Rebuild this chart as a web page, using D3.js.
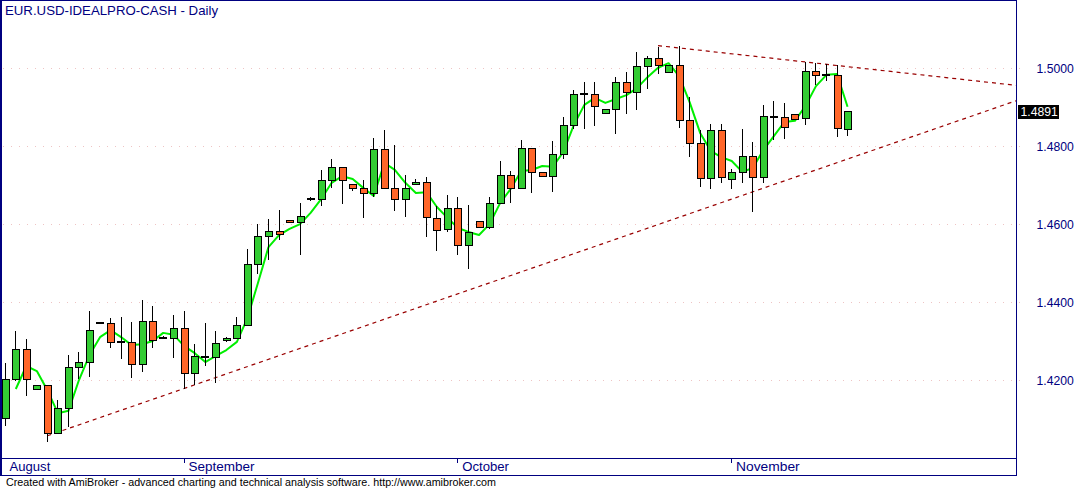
<!DOCTYPE html>
<html><head><meta charset="utf-8">
<script src="https://cdn.jsdelivr.net/npm/d3@7"></script>
<style>html,body{margin:0;padding:0;background:#fff;overflow:hidden}svg{display:block}</style>
</head><body>
<svg id="c" width="1077" height="488"></svg>
<script>
const title = "EUR.USD-IDEALPRO-CASH - Daily";
const footer = "Created with AmiBroker - advanced charting and technical analysis software. http://www.amibroker.com";

const opens = [1.4103,1.4202,1.4279,1.4176,1.4187,1.4063,1.4128,1.4233,1.4246,1.4346,
1.4346,1.4298,1.4298,1.4241,1.4352,1.4309,1.4307,1.4333,1.4217,1.4260,
1.4257,1.4302,1.4307,1.4340,1.4497,1.4569,1.4582,1.4611,1.4605,1.4664,
1.4664,1.4712,1.4746,1.4702,1.4692,1.4679,1.4792,1.4692,1.4664,1.4702,
1.4707,1.4617,1.4587,1.4641,1.4546,1.4607,1.4592,1.4653,1.4725,1.4692,
1.4795,1.4733,1.4723,1.4779,1.4854,1.4934,1.4935,1.4884,1.4895,1.4964,
1.4938,1.5005,1.5025,1.4990,1.5007,1.4866,1.4807,1.4718,1.4841,1.4715,
1.4733,1.4774,1.4720,1.4875,1.4874,1.4882,1.4872,1.4992,1.4982,1.4982,
1.4846];
const highs = [1.4245,1.4326,1.4305,1.4187,1.4187,1.4149,1.4264,1.4272,1.4377,1.4346,
1.4359,1.4363,1.4349,1.4405,1.4390,1.4314,1.4366,1.4377,1.4293,1.4346,
1.4326,1.4311,1.4362,1.4535,1.4600,1.4612,1.4636,1.4611,1.4653,1.4669,
1.4739,1.4767,1.4746,1.4702,1.4712,1.4820,1.4842,1.4803,1.4726,1.4715,
1.4720,1.4647,1.4674,1.4670,1.4649,1.4607,1.4670,1.4762,1.4736,1.4816,
1.4795,1.4733,1.4813,1.4876,1.4944,1.4965,1.4964,1.4895,1.4977,1.4990,
1.5042,1.5031,1.5054,1.5007,1.5057,1.4925,1.4842,1.4857,1.4857,1.4741,
1.4844,1.4811,1.4906,1.4916,1.4911,1.4882,1.5015,1.5014,1.5010,1.5008,
1.4891];
const lows = [1.4083,1.4198,1.4160,1.4176,1.4040,1.4063,1.4080,1.4202,1.4209,1.4346,
1.4283,1.4254,1.4206,1.4221,1.4283,1.4309,1.4257,1.4177,1.4186,1.4237,
1.4192,1.4298,1.4305,1.4340,1.4471,1.4508,1.4558,1.4602,1.4522,1.4659,
1.4647,1.4692,1.4652,1.4686,1.4617,1.4669,1.4692,1.4634,1.4619,1.4702,
1.4568,1.4532,1.4581,1.4522,1.4486,1.4592,1.4587,1.4652,1.4655,1.4689,
1.4679,1.4723,1.4682,1.4766,1.4843,1.4845,1.4853,1.4884,1.4832,1.4883,
1.4892,1.4946,1.4986,1.4990,1.4847,1.4773,1.4696,1.4689,1.4706,1.4689,
1.4706,1.4632,1.4706,1.4816,1.4818,1.4868,1.4855,1.4958,1.4967,1.4824,
1.4827];
const closes = [1.4202,1.4279,1.4202,1.4187,1.4063,1.4128,1.4233,1.4246,1.4328,1.4346,
1.4298,1.4298,1.4241,1.4351,1.4302,1.4309,1.4333,1.4217,1.4261,1.4260,
1.4294,1.4307,1.4340,1.4497,1.4569,1.4582,1.4574,1.4605,1.4620,1.4664,
1.4712,1.4746,1.4712,1.4692,1.4679,1.4792,1.4692,1.4664,1.4692,1.4708,
1.4617,1.4587,1.4641,1.4546,1.4579,1.4592,1.4653,1.4725,1.4692,1.4795,
1.4733,1.4723,1.4779,1.4854,1.4933,1.4934,1.4905,1.4895,1.4964,1.4938,
1.5005,1.5025,1.5007,1.5007,1.4866,1.4807,1.4718,1.4841,1.4720,1.4733,
1.4774,1.4720,1.4877,1.4875,1.4848,1.4870,1.4992,1.4982,1.4982,1.4846,
1.4891];
const maValues = [null,1.4177,1.4236,1.4223,1.4174,1.4115,1.4121,1.4200,1.4264,1.4310,
1.4328,1.4310,1.4290,1.4292,1.4300,1.4321,1.4316,1.4287,1.4269,1.4246,
1.4262,1.4277,1.4298,1.4359,1.4449,1.4541,1.4572,1.4588,1.4600,1.4629,
1.4664,1.4706,1.4723,1.4716,1.4693,1.4672,1.4757,1.4739,1.4706,1.4680,
1.4682,1.4644,1.4616,1.4590,1.4580,1.4572,1.4600,1.4654,1.4690,1.4736,
1.4739,1.4749,1.4747,1.4785,1.4854,1.4906,1.4924,1.4911,1.4921,1.4931,
1.4949,1.4977,1.5001,1.5013,1.4980,1.4913,1.4834,1.4788,1.4772,1.4762,
1.4734,1.4744,1.4790,1.4826,1.4862,1.4865,1.4903,1.4954,1.4983,1.4985,
1.4901];

const monthLabels = ["August","September","October","November"];
const monthStartBar = [0,17,43,69];
const yTicks = [1.42,1.44,1.46,1.48,1.50];
const supportLine = [[4,1.4057],[80,1.4767]];
const resistLine = [[62,1.5058],[80,1.5004]];
const lastPrice = closes[closes.length-1];

const NAVY = "#000080";
const FONT = "'Liberation Sans', Arial, sans-serif";
const UP = "#33CC33", DOWN = "#FF6629";
const plotRight = 1016, plotBottom = 458, axisBottom = 475;

const x = d3.scaleLinear().domain([-0.5, 96]).range([0, plotRight]);
const y = d3.scaleLinear().domain([1.40, 1.5175]).range([plotBottom, 0]);
const svg = d3.select("#c");
const px = v => Math.round(v) + 0.5;

svg.append("rect").attr("width",1077).attr("height",488).attr("fill","#fff");

// grid
svg.append("g").attr("shape-rendering","crispEdges")
  .selectAll("line").data(yTicks).join("line")
  .attr("x1",3).attr("x2",plotRight+5)
  .attr("y1",d=>px(y(d))).attr("y2",d=>px(y(d)))
  .attr("stroke","#eec4c4").attr("stroke-dasharray","1,7");

svg.append("clipPath").attr("id","pc").append("rect")
  .attr("x",1).attr("y",1).attr("width",plotRight-1).attr("height",plotBottom-1);

// trend lines
function extendLine(pts){
  const [a,b] = pts;
  const slope = (b[1]-a[1])/(b[0]-a[0]);
  const end = x.domain()[1];
  return [a, [end, a[1] + slope*(end-a[0])]];
}
const tl = d3.line().x(d=>x(d[0])).y(d=>y(d[1]));
const tg = svg.append("g").attr("clip-path","url(#pc)");
[supportLine, resistLine].forEach(l=>{
  tg.append("path").attr("d", tl(extendLine(l)))
    .attr("fill","none").attr("stroke","#990000").attr("stroke-width",1.2)
    .attr("stroke-dasharray","4,4");
});

// moving average line
const maLine = d3.line().defined(d=>d!=null).x((d,i)=>x(i)).y(d=>y(d));
svg.append("path").attr("d", maLine(maValues))
  .attr("fill","none").attr("stroke","#00EE00").attr("stroke-width",2).attr("stroke-linejoin","round");

// candles
const bars = opens.map((o,i)=>({i,o,h:highs[i],l:lows[i],c:closes[i]}));
const cg = svg.append("g").attr("shape-rendering","crispEdges");
const cand = cg.selectAll("g").data(bars).join("g");
cand.append("line")
  .attr("x1",d=>px(x(d.i)-0.5)).attr("x2",d=>px(x(d.i)-0.5))
  .attr("y1",d=>Math.round(y(d.h))).attr("y2",d=>Math.round(y(d.l)))
  .attr("stroke","#000").attr("stroke-width",1);
cand.filter(d=>d.o!==d.c).append("rect")
  .attr("x",d=>px(x(d.i)-3.5))
  .attr("y",d=>px(y(Math.max(d.o,d.c))))
  .attr("width",7)
  .attr("height",d=>Math.max(1,Math.round(y(Math.min(d.o,d.c))-y(Math.max(d.o,d.c)))))
  .attr("fill",d=>d.c>d.o?UP:DOWN).attr("stroke","#000").attr("stroke-width",1);
cand.filter(d=>d.o===d.c).append("rect")
  .attr("x",d=>Math.round(x(d.i)-4))
  .attr("y",d=>Math.round(y(d.c))-1)
  .attr("width",8).attr("height",2).attr("fill","#000");

// frame
const fg = svg.append("g").attr("shape-rendering","crispEdges").attr("stroke",NAVY).attr("fill","none");
fg.append("rect").attr("x",0.5).attr("y",0.5).attr("width",plotRight).attr("height",axisBottom);
fg.append("line").attr("x1",0).attr("x2",plotRight+1).attr("y1",plotBottom+0.5).attr("y2",plotBottom+0.5);
fg.append("line").attr("x1",1.5).attr("x2",1.5).attr("y1",0).attr("y2",axisBottom);

// month axis
const mg = svg.append("g");
mg.selectAll("line").data(monthStartBar.slice(1)).join("line")
  .attr("shape-rendering","crispEdges")
  .attr("x1",d=>px(x(d)-0.5)).attr("x2",d=>px(x(d)-0.5))
  .attr("y1",plotBottom+1).attr("y2",plotBottom+5).attr("stroke",NAVY);
const monthW = [40.7,66,46.7,63.7];
mg.selectAll("text").data(monthLabels).join("text")
  .attr("x",(d,i)=>x(monthStartBar[i])+4.3).attr("y",471)
  .attr("font-family",FONT).attr("font-size",13.5).attr("fill",NAVY)
  .attr("textLength",(d,i)=>monthW[i]).attr("lengthAdjust","spacingAndGlyphs")
  .text(d=>d);

// y axis labels
const yAxis = d3.axisRight(y).tickValues(yTicks).tickFormat(d3.format(".4f")).tickSize(0).tickPadding(0);
const gy = svg.append("g").attr("transform","translate(1036.5,0)").call(yAxis);
gy.select(".domain").remove();
gy.attr("font-family",FONT).attr("font-size",12.2);
gy.selectAll("text").attr("fill",NAVY).attr("dy","0.36em");

// last price label
const lp = y(lastPrice);
svg.append("rect").attr("x",1018).attr("y",Math.round(lp)-6).attr("width",41).attr("height",14).attr("fill","#000");
svg.append("text").attr("x",1020.5).attr("y",lp+1).attr("dy","0.36em")
  .attr("font-family",FONT).attr("font-size",12.2).attr("fill","#fff")
  .text(d3.format(".4f")(lastPrice));

// title & footer
svg.append("text").attr("x",5).attr("y",14.5).attr("font-family",FONT).attr("font-size",13.3)
  .attr("fill",NAVY).attr("textLength",213).attr("lengthAdjust","spacingAndGlyphs").text(title);
svg.append("text").attr("x",6).attr("y",485.5).attr("font-family",FONT).attr("font-size",11.5)
  .attr("fill","#000").attr("textLength",490).attr("lengthAdjust","spacingAndGlyphs").text(footer);
</script>
</body></html>
